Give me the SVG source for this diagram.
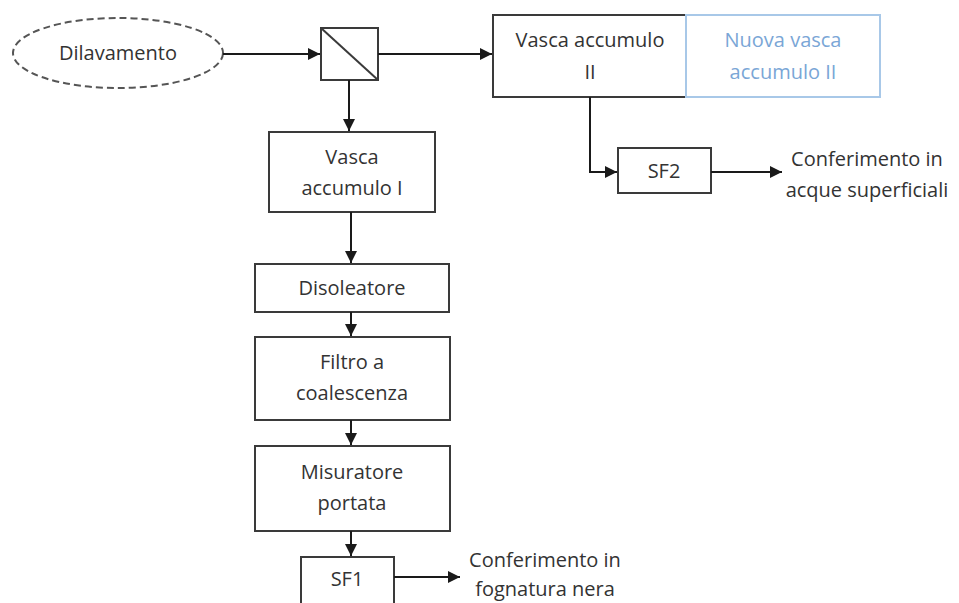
<svg xmlns="http://www.w3.org/2000/svg" width="959" height="603" viewBox="0 0 959 603">
<style>
.box{fill:#fff;stroke:#3a3a3a;stroke-width:2}
.t{font-family:"Open Sans","Liberation Sans",sans-serif;font-size:20px;fill:#333;text-anchor:middle}
.blue{fill:#7aa6d6}
.c{fill:none;stroke:#1a1a1a;stroke-width:2}
</style>
<defs>
<marker id="ah" viewBox="0 0 10 10" refX="10" refY="5" markerWidth="6" markerHeight="6" orient="auto" markerUnits="strokeWidth">
<path d="M0,0 L10,5 L0,10 z" fill="#1a1a1a"/>
</marker>
</defs>
<rect width="959" height="603" fill="#fff"/>
<g id="dilavamento">
<ellipse cx="118" cy="53" rx="105" ry="35" fill="#fff" stroke="#555" stroke-width="2" stroke-dasharray="7,4"/>
<text class="t" x="118" y="60">Dilavamento</text>
</g>
<g id="separatore">
<rect class="box" x="321" y="28" width="57" height="52"/>
<line x1="321" y1="28" x2="378" y2="80" stroke="#3a3a3a" stroke-width="2"/>
</g>
<g id="vasca2">
<rect class="box" x="493" y="15" width="193" height="82"/>
<text class="t" x="590" y="47">Vasca accumulo</text>
<text class="t" x="590" y="79">II</text>
</g>
<g id="nuova">
<rect x="686" y="15" width="194" height="82" fill="#fff" stroke="#a8c8e8" stroke-width="2"/>
<text class="t blue" x="783" y="47">Nuova vasca</text>
<text class="t blue" x="783" y="79">accumulo II</text>
</g>
<g id="sf2">
<rect class="box" x="618" y="148" width="93" height="45"/>
<text class="t" x="664" y="178">SF2</text>
</g>
<g id="out2">
<text class="t" x="867" y="166">Conferimento in</text>
<text class="t" x="867" y="197">acque superficiali</text>
</g>
<g id="vasca1">
<rect class="box" x="269" y="132" width="166" height="80"/>
<text class="t" x="352" y="164">Vasca</text>
<text class="t" x="352" y="195">accumulo I</text>
</g>
<g id="disoleatore">
<rect class="box" x="255" y="264" width="194" height="48"/>
<text class="t" x="352" y="295">Disoleatore</text>
</g>
<g id="filtro">
<rect class="box" x="255" y="337" width="195" height="83"/>
<text class="t" x="352" y="369">Filtro a</text>
<text class="t" x="352" y="400">coalescenza</text>
</g>
<g id="misuratore">
<rect class="box" x="255" y="446" width="195" height="85"/>
<text class="t" x="352" y="479">Misuratore</text>
<text class="t" x="352" y="510">portata</text>
</g>
<g id="sf1">
<rect class="box" x="301" y="557" width="93" height="50"/>
<text class="t" x="347" y="586">SF1</text>
</g>
<g id="out1">
<text class="t" x="545" y="567">Conferimento in</text>
<text class="t" x="545" y="596">fognatura nera</text>
</g>
<g id="connectors">
<line class="c" x1="223" y1="54" x2="320" y2="54" marker-end="url(#ah)"/>
<line class="c" x1="378" y1="54" x2="492" y2="54" marker-end="url(#ah)"/>
<line class="c" x1="349" y1="80" x2="349" y2="131" marker-end="url(#ah)"/>
<polyline class="c" points="590,97 590,172 617,172" marker-end="url(#ah)"/>
<line class="c" x1="711" y1="172" x2="782" y2="172" marker-end="url(#ah)"/>
<line class="c" x1="351" y1="212" x2="351" y2="263" marker-end="url(#ah)"/>
<line class="c" x1="351" y1="312" x2="351" y2="336" marker-end="url(#ah)"/>
<line class="c" x1="351" y1="420" x2="351" y2="445" marker-end="url(#ah)"/>
<line class="c" x1="351" y1="531" x2="351" y2="556" marker-end="url(#ah)"/>
<line class="c" x1="394" y1="577" x2="460" y2="577" marker-end="url(#ah)"/>
</g>
</svg>
